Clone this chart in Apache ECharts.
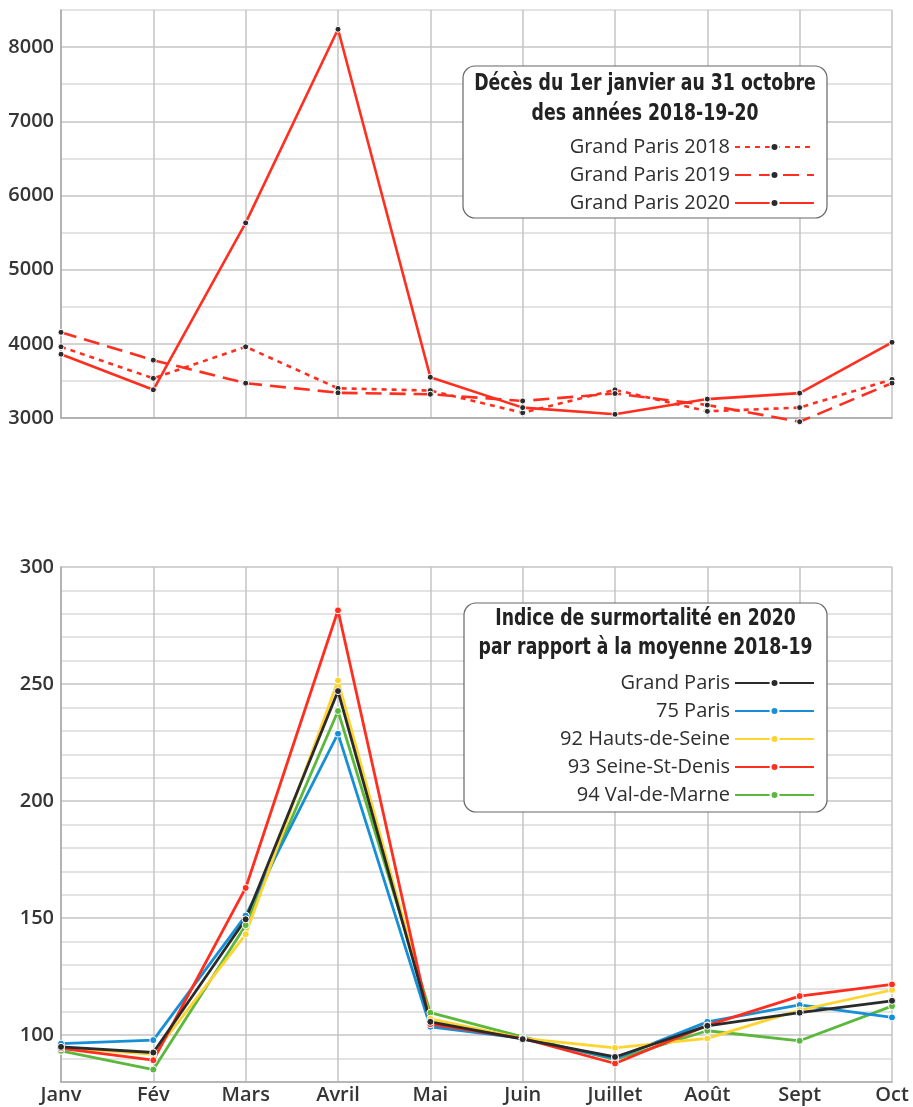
<!DOCTYPE html>
<html>
<head>
<meta charset="utf-8">
<script src="https://cdn.jsdelivr.net/npm/echarts@6.0.0/dist/echarts.min.js"></script>
<style>
  html, body { margin: 0; padding: 0; background: #fff; }
  #chart { width: 913px; height: 1107px; }
</style>
</head>
<body>
<div id="chart"></div>
<script>
// mois (axe commun)
const months = ['Janv', 'Fév', 'Mars', 'Avril', 'Mai', 'Juin', 'Juillet', 'Août', 'Sept', 'Oct']

// décès Grand Paris
const deces2018 = [3960, 3535, 3960, 3400, 3370, 3070, 3380, 3090, 3140, 3520]
const deces2019 = [4155, 3780, 3470, 3340, 3320, 3230, 3330, 3175, 2950, 3470]
const deces2020 = [3860, 3380, 5630, 8240, 3550, 3140, 3050, 3255, 3335, 4020]

// indice de surmortalité 2020
const grandParis = [95, 92.6, 149.5, 247, 105.7, 98.3, 90.7, 104, 109.6, 114.7]
const paris75 = [96.4, 97.9, 151.1, 228.8, 103.6, 98.6, 90, 105.7, 112.9, 107.6]
const hauts92 = [94.8, 91.8, 143.1, 251.5, 107, 98.6, 94.6, 98.6, 110.7, 119.3]
const seine93 = [94.4, 89.3, 162.9, 281.5, 104.7, 98.6, 87.9, 104.2, 116.7, 121.7]
const valMarne94 = [93.3, 85.3, 147, 238.5, 109.6, 99.3, 89.6, 101.9, 97.6, 112.4]

const titleTop = ['Décès du 1er janvier au 31 octobre', 'des années 2018-19-20']
const titleBottom = ['Indice de surmortalité en 2020', 'par rapport à la moyenne 2018-19']

const RED = '#ff2e1f'
const labelFont = { fontFamily: 'Open Sans', fontSize: 20, fontWeight: 600, color: '#353535' }
const gridGray = '#c4c4c4'
const gridLight = '#dadada'

const topSerie = (name, data, type) => ({
  name,
  type: 'line',
  xAxisIndex: 0,
  yAxisIndex: 0,
  data,
  clip: false,
  symbol: 'circle',
  symbolSize: 6,
  itemStyle: { color: '#2b2b2b', borderColor: '#fff', borderWidth: 1 },
  lineStyle: { color: RED, width: 2.6, type },
})

const bottomSerie = (name, data, color) => ({
  name,
  type: 'line',
  xAxisIndex: 1,
  yAxisIndex: 1,
  data,
  clip: false,
  symbol: 'circle',
  symbolSize: 7,
  itemStyle: { color, borderColor: '#fff', borderWidth: 1 },
  lineStyle: { color, width: 2.8 },
})

const legendBase = {
  orient: 'vertical',
  align: 'right',
  right: 98,
  padding: 0,
  itemWidth: 79,
  itemHeight: 10,
  itemGap: 6,
  selectedMode: false,
  z: 10,
  textStyle: { fontFamily: 'Open Sans', fontSize: 20, color: '#2e2e2e', lineHeight: 22 },
}

const box = (x, y, w, h, lines, y1, y2) => [
  {
    type: 'rect',
    z: 5,
    shape: { x, y, width: w, height: h, r: 12 },
    style: { fill: '#fff', stroke: '#666', lineWidth: 1.2 },
  },
  ...lines.map((t, i) => ({
    type: 'text',
    z: 6,
    x: x + w / 2,
    y: i === 0 ? y1 : y2,
    scaleX: 0.835,
    style: {
      text: t,
      x: 0,
      y: 0,
      align: 'center',
      verticalAlign: 'middle',
      fill: '#222',
      font: 'bold 23px "DejaVu Sans Condensed", "Liberation Sans Narrow", sans-serif',
    },
  })),
]

const myChart = echarts.init(document.getElementById('chart'))
myChart.setOption({
  animation: false,
  backgroundColor: '#fff',
  grid: [
    { left: 61, right: 21, top: 10, bottom: 689 },
    { left: 61, right: 21, top: 567, bottom: 25 },
  ],
  xAxis: [0, 1].map(i => ({
    gridIndex: i,
    type: 'category',
    data: months,
    boundaryGap: false,
    axisLine: { lineStyle: { color: '#a8a8a8', width: 1.5 } },
    axisTick: { show: false },
    axisLabel: i === 0 ? { show: false } : { ...labelFont, margin: 3, interval: 0 },
    splitLine: { show: true, lineStyle: { color: gridGray, width: 1.5 } },
  })),
  yAxis: [
    {
      gridIndex: 0,
      type: 'value',
      min: 3000,
      max: 8500,
      interval: 500,
      axisLine: { show: true, lineStyle: { color: '#a8a8a8', width: 1.5 } },
      axisTick: { show: false },
      axisLabel: { ...labelFont, margin: 7, formatter: v => (v % 1000 === 0 ? String(v) : '') },
      splitLine: { lineStyle: { color: [gridGray, gridLight], width: 1.5 } },
    },
    {
      gridIndex: 1,
      type: 'value',
      min: 80,
      max: 300,
      interval: 10,
      axisLine: { show: true, lineStyle: { color: '#a8a8a8', width: 1.5 } },
      axisTick: { show: false },
      axisLabel: { ...labelFont, margin: 7, formatter: v => (v % 50 === 0 ? String(v) : '') },
      splitLine: { lineStyle: { color: [gridLight, gridLight, gridGray, gridLight, gridLight], width: 1.5 } },
    },
  ],
  legend: [
    { ...legendBase, top: 136, data: ['Grand Paris 2018', 'Grand Paris 2019', 'Grand Paris 2020'] },
    { ...legendBase, top: 672, data: ['Grand Paris', '75 Paris', '92 Hauts-de-Seine', '93 Seine-St-Denis', '94 Val-de-Marne'] },
  ],
  graphic: [
    ...box(463, 66, 364, 152, titleTop, 84, 114),
    ...box(464, 603, 363, 209, titleBottom, 619, 648),
  ],
  series: [
    topSerie('Grand Paris 2018', deces2018, [5, 5]),
    topSerie('Grand Paris 2019', deces2019, [16, 8]),
    topSerie('Grand Paris 2020', deces2020, 'solid'),
    bottomSerie('94 Val-de-Marne', valMarne94, '#5bb83c'),
    bottomSerie('75 Paris', paris75, '#168fd6'),
    bottomSerie('92 Hauts-de-Seine', hauts92, '#ffd42e'),
    bottomSerie('93 Seine-St-Denis', seine93, '#ff2e1f'),
    bottomSerie('Grand Paris', grandParis, '#2a2a2a'),
  ],
})
</script>
</body>
</html>
